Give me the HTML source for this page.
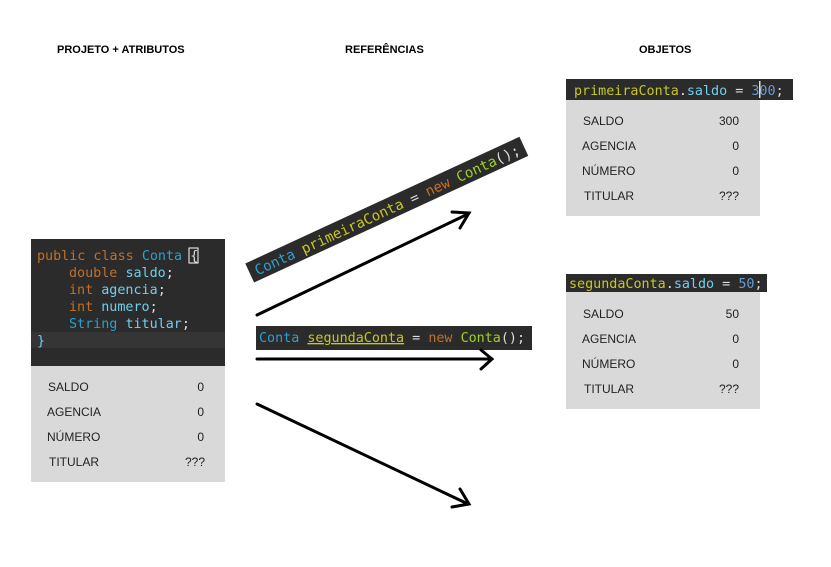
<!DOCTYPE html>
<html><head><meta charset="utf-8"><style>
html,body{margin:0;padding:0;background:#fff;width:831px;height:567px;overflow:hidden}
svg{display:block}
.h{font-family:"Liberation Sans",sans-serif;font-weight:bold;font-size:11px;fill:#000}
.l{font-family:"Liberation Sans",sans-serif;font-size:12px;fill:#222}
.c{font-family:"DejaVu Sans Mono","Liberation Mono",monospace;font-size:13.4px}
.k{fill:#c0702a}.t{fill:#2a9fd0}.v{fill:#6fd0f0}.w{fill:#ddd}.y{fill:#c8c820}.g{fill:#9fd028}.n{fill:#6a9ad0}
</style></head><body>
<svg width="831" height="567" viewBox="0 0 831 567">
<text class="h" x="57" y="53">PROJETO + ATRIBUTOS</text>
<text class="h" x="345" y="53">REFERÊNCIAS</text>
<text class="h" x="639" y="53">OBJETOS</text>

<rect x="31" y="239" width="194" height="127" fill="#2b2b2b"/>
<rect x="31" y="332" width="194" height="16" fill="#353535"/>
<g class="c">
<text x="37" y="260"><tspan class="k">public class </tspan><tspan class="t">Conta </tspan><tspan class="w">{</tspan></text>
<rect x="189" y="248" width="9" height="15" fill="none" stroke="#fff" stroke-width="1"/>
<text x="69" y="277"><tspan class="k">double </tspan><tspan class="v">saldo</tspan><tspan class="w">;</tspan></text>
<text x="69" y="294"><tspan class="k">int </tspan><tspan class="v">agencia</tspan><tspan class="w">;</tspan></text>
<text x="69" y="311"><tspan class="k">int </tspan><tspan class="v">numero</tspan><tspan class="w">;</tspan></text>
<text x="69" y="328"><tspan class="t">String </tspan><tspan class="v">titular</tspan><tspan class="w">;</tspan></text>
<text x="37" y="345" class="v">}</text>
</g>
<rect x="31" y="366" width="194" height="116" fill="#d9d9d9"/>
<g class="l">
<text x="48" y="391">SALDO</text><text x="204" y="391" text-anchor="end">0</text>
<text x="47" y="416">AGENCIA</text><text x="204" y="416" text-anchor="end">0</text>
<text x="47" y="441">NÚMERO</text><text x="204" y="441" text-anchor="end">0</text>
<text x="49" y="466">TITULAR</text><text x="205" y="466" text-anchor="end">???</text>
</g>

<g transform="translate(252,278) rotate(-24.8)">
<rect x="0" y="-16" width="302" height="21" fill="#2b2b2b"/>
<text class="c" x="6" y="0" style="font-size:14.2px"><tspan class="t">Conta </tspan><tspan class="y">primeiraConta </tspan><tspan class="w">= </tspan><tspan class="k">new </tspan><tspan class="g">Conta</tspan><tspan class="w">();</tspan></text>
</g>

<rect x="256" y="326" width="276" height="24" fill="#2b2b2b"/>
<text class="c" x="259" y="342"><tspan class="t">Conta </tspan><tspan class="y" text-decoration="underline">segundaConta</tspan><tspan class="w"> = </tspan><tspan class="k">new </tspan><tspan class="g">Conta</tspan><tspan class="w">();</tspan></text>

<g stroke="#000" stroke-width="3" fill="none" stroke-linecap="round">
<line x1="257" y1="315" x2="468" y2="214"/>
<polyline points="452,212 469,213 460,228"/>
<line x1="257" y1="359" x2="491" y2="359"/>
<polyline points="481,350 492,359 481,369"/>
<line x1="257" y1="404" x2="468" y2="504"/>
<polyline points="460,489 469,504 452,507"/>
</g>

<rect x="566" y="79" width="227" height="21" fill="#2b2b2b"/>
<text class="c" x="574" y="95"><tspan class="y">primeiraConta</tspan><tspan class="w">.</tspan><tspan class="v">saldo</tspan><tspan class="w"> = </tspan><tspan class="n">300</tspan><tspan class="w">;</tspan></text>
<rect x="759" y="81" width="1.5" height="17" fill="#ddd"/>
<rect x="566" y="100" width="194" height="116" fill="#d9d9d9"/>
<g class="l">
<text x="583" y="125">SALDO</text><text x="739" y="125" text-anchor="end">300</text>
<text x="582" y="150">AGENCIA</text><text x="739" y="150" text-anchor="end">0</text>
<text x="582" y="175">NÚMERO</text><text x="739" y="175" text-anchor="end">0</text>
<text x="584" y="200">TITULAR</text><text x="739" y="200" text-anchor="end">???</text>
</g>

<rect x="566" y="274" width="201" height="18" fill="#2b2b2b"/>
<text class="c" x="569" y="288"><tspan class="y">segundaConta</tspan><tspan class="w">.</tspan><tspan class="v">saldo</tspan><tspan class="w"> = </tspan><tspan class="n">50</tspan><tspan class="w">;</tspan></text>
<rect x="566" y="292" width="194" height="117" fill="#d9d9d9"/>
<g class="l">
<text x="583" y="318">SALDO</text><text x="739" y="318" text-anchor="end">50</text>
<text x="582" y="343">AGENCIA</text><text x="739" y="343" text-anchor="end">0</text>
<text x="582" y="368">NÚMERO</text><text x="739" y="368" text-anchor="end">0</text>
<text x="584" y="393">TITULAR</text><text x="739" y="393" text-anchor="end">???</text>
</g>
</svg>
</body></html>
